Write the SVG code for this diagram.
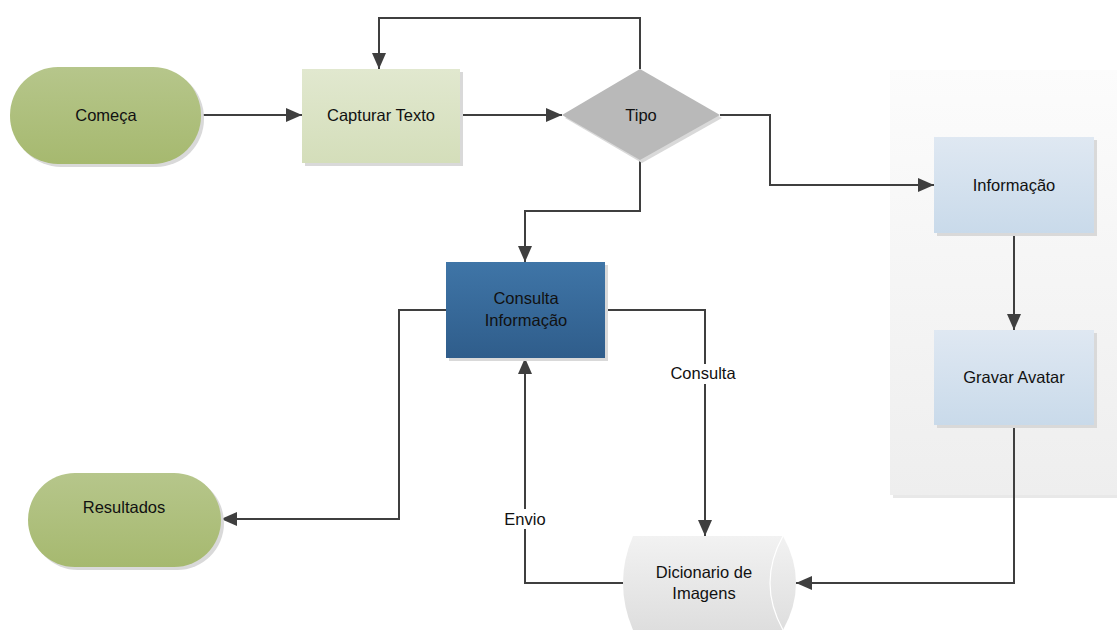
<svg xmlns="http://www.w3.org/2000/svg" width="1117" height="631" viewBox="0 0 1117 631">
  <defs>
    <linearGradient id="gGreen" x1="0" y1="0" x2="0" y2="1">
      <stop offset="0" stop-color="#b6c68b"/>
      <stop offset="1" stop-color="#a6b96f"/>
    </linearGradient>
    <linearGradient id="gLime" x1="0" y1="0" x2="0" y2="1">
      <stop offset="0" stop-color="#e1e8cf"/>
      <stop offset="1" stop-color="#d4deba"/>
    </linearGradient>
    <linearGradient id="gBlue" x1="0" y1="0" x2="0" y2="1">
      <stop offset="0" stop-color="#3f75a7"/>
      <stop offset="1" stop-color="#2f5d8b"/>
    </linearGradient>
    <linearGradient id="gSky" x1="0" y1="0" x2="0" y2="1">
      <stop offset="0" stop-color="#dfe8f2"/>
      <stop offset="1" stop-color="#c9daea"/>
    </linearGradient>
    <linearGradient id="gPanel" x1="0" y1="0" x2="0" y2="1">
      <stop offset="0" stop-color="#fcfcfc"/>
      <stop offset="1" stop-color="#eeeeee"/>
    </linearGradient>
    <linearGradient id="gDrum" x1="0" y1="0" x2="0" y2="1">
      <stop offset="0" stop-color="#f2f2f2"/>
      <stop offset="1" stop-color="#dedede"/>
    </linearGradient>
    <marker id="arrow" viewBox="0 0 16 14" refX="16" refY="7" markerWidth="16" markerHeight="14" markerUnits="userSpaceOnUse" orient="auto">
      <path d="M0,0 L16,7 L0,14 Z" fill="#3f3f3f"/>
    </marker>
  </defs>
  <style>
    .shadow { fill: #d9d9d9; }
    .edge { fill: none; stroke: #3f3f3f; stroke-width: 2; }
    .arr { marker-end: url(#arrow); }
    text { font-family: "Liberation Sans", Arial, sans-serif; font-size: 16.5px; fill: #111111; text-anchor: middle; }
    .lblbg { fill: #ffffff; }
  </style>

  <rect width="1117" height="631" fill="#ffffff"/>

  <!-- swimlane panel on the right -->
  <g id="panel">
    <rect x="893" y="73" width="224" height="425" class="shadow" opacity="0.6"/>
    <rect x="890" y="70" width="227" height="425" fill="url(#gPanel)"/>
  </g>

  <!-- connectors -->
  <g id="connectors">
    <path class="edge arr" d="M201,115 L302,115"/>
    <path class="edge arr" d="M460,115 L562,115"/>
    <path class="edge arr" d="M640,69 L640,18 L379,18 L379,69"/>
    <path class="edge arr" d="M720,115 L770,115 L770,185 L934,185"/>
    <path class="edge arr" d="M640,160 L640,211 L525,211 L525,262"/>
    <path class="edge arr" d="M1014,233 L1014,330"/>
    <path class="edge arr" d="M1014,425 L1014,583 L796,583"/>
    <path class="edge arr" d="M605,310 L705,310 L705,536"/>
    <path class="edge arr" d="M623,583 L525,583 L525,358"/>
    <path class="edge arr" d="M446,310 L399,310 L399,519 L221,519"/>
    <rect class="lblbg" x="668" y="364" width="70" height="20"/>
    <text x="703" y="379">Consulta</text>
    <rect class="lblbg" x="502" y="509" width="46" height="20"/>
    <text x="525" y="525">Envio</text>
  </g>

  <g id="comeca">
    <rect x="13" y="70" width="191" height="97" rx="48" class="shadow"/>
    <rect x="10" y="67" width="191" height="97" rx="48" fill="url(#gGreen)"/>
    <text x="106" y="121">Começa</text>
  </g>

  <g id="capturar">
    <rect x="305" y="72" width="158" height="94" class="shadow"/>
    <rect x="302" y="69" width="158" height="94" fill="url(#gLime)"/>
    <text x="381" y="121">Capturar Texto</text>
  </g>

  <g id="tipo">
    <path d="M565,118 L642,72 L722,118 L642,163 Z" class="shadow"/>
    <path d="M562,115 L640,69 L720,115 L640,160 Z" fill="#b9b9b9"/>
    <text x="641" y="121">Tipo</text>
  </g>

  <g id="consulta-informacao">
    <rect x="449" y="265" width="159" height="96" class="shadow"/>
    <rect x="446" y="262" width="159" height="96" fill="url(#gBlue)"/>
    <text x="526" y="304">Consulta</text>
    <text x="526" y="326">Informação</text>
  </g>

  <g id="informacao">
    <rect x="937" y="140" width="160" height="96" class="shadow"/>
    <rect x="934" y="137" width="160" height="96" fill="url(#gSky)"/>
    <text x="1014" y="191">Informação</text>
  </g>

  <g id="gravar-avatar">
    <rect x="937" y="333" width="160" height="95" class="shadow"/>
    <rect x="934" y="330" width="160" height="95" fill="url(#gSky)"/>
    <text x="1014" y="383">Gravar Avatar</text>
  </g>

  <g id="resultados">
    <rect x="31" y="476" width="193" height="94" rx="47" class="shadow"/>
    <rect x="28" y="473" width="193" height="94" rx="47" fill="url(#gGreen)"/>
    <text x="124" y="513">Resultados</text>
  </g>

  <g id="dicionario">
    <path d="M633,536 L783,536 Q809,583 783,630 L633,630 Q613,583 633,536 Z" fill="url(#gDrum)"/>
    <path d="M783,536 Q757,583 783,630" fill="none" stroke="#ffffff" stroke-width="1.2"/>
    <text x="704" y="578">Dicionario de</text>
    <text x="704" y="599">Imagens</text>
  </g>
</svg>
